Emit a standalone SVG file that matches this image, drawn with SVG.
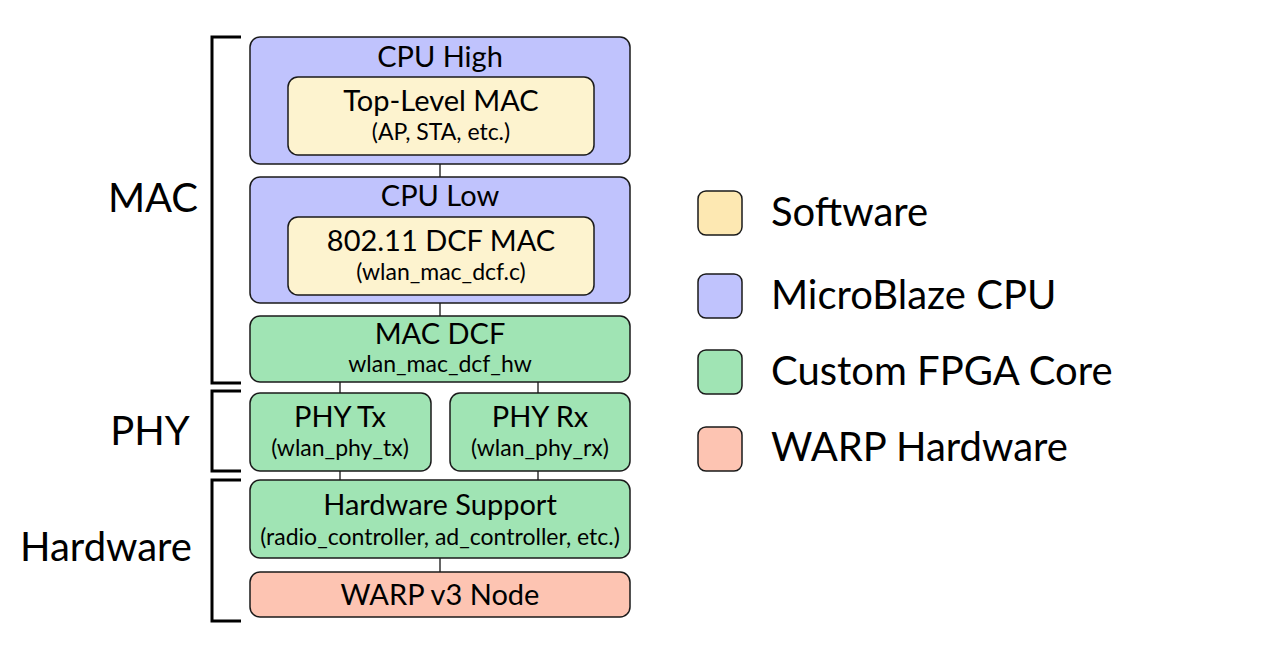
<svg xmlns="http://www.w3.org/2000/svg" width="1266" height="655" viewBox="0 0 1266 655">
<style>
text{font-family:Lato,"Open Sans","Liberation Sans",sans-serif;fill:#000;text-anchor:middle}
.box{stroke:#1a1a1a;stroke-width:1.5}
.cpu{fill:#c0c3fd}
.sw{fill:#fdf3cf}
.hw{fill:#a0e4b4}
.warp{fill:#fdc4b2}
.lsw{fill:#fde8b2}
.t1{font-size:29px}
.t2{font-size:23px}
.big{font-size:40px}
.leg{font-size:40px;text-anchor:start}
.br{fill:none;stroke:#000;stroke-width:3}
.con{stroke:#333;stroke-width:1.5}
</style>
<rect width="1266" height="655" fill="#fff"/>
<g id="connectors">
<line class="con" x1="440" y1="164" x2="440" y2="177"/>
<line class="con" x1="440" y1="303" x2="440" y2="316"/>
<line class="con" x1="340" y1="382" x2="340" y2="393"/>
<line class="con" x1="538" y1="382" x2="538" y2="393"/>
<line class="con" x1="340" y1="471" x2="340" y2="480"/>
<line class="con" x1="538" y1="471" x2="538" y2="480"/>
<line class="con" x1="440" y1="558" x2="440" y2="572"/>
</g>
<g id="brackets">
<path class="br" d="M241,37 H212 V383 H241"/>
<path class="br" d="M241,391 H212 V471 H241"/>
<path class="br" d="M241,480 H212 V621 H241"/>
<text class="big" x="153" y="212">MAC</text>
<text class="big" x="150" y="445">PHY</text>
<text class="big" x="106" y="561">Hardware</text>
</g>
<g id="cpu-high">
<rect class="box cpu" x="250" y="37" width="380" height="127" rx="10"/>
<text class="t1" x="440" y="67">CPU High</text>
</g>
<g id="top-level-mac">
<rect class="box sw" x="288" y="77" width="306" height="78" rx="10"/>
<text class="t1" x="441" y="111">Top-Level MAC</text>
<text class="t2" x="441" y="140">(AP, STA, etc.)</text>
</g>
<g id="cpu-low">
<rect class="box cpu" x="250" y="177" width="380" height="126" rx="10"/>
<text class="t1" x="440" y="206">CPU Low</text>
</g>
<g id="dcf-mac">
<rect class="box sw" x="288" y="217" width="306" height="78" rx="10"/>
<text class="t1" x="441" y="251">802.11 DCF MAC</text>
<text class="t2" x="441" y="280">(wlan_mac_dcf.c)</text>
</g>
<g id="mac-dcf">
<rect class="box hw" x="250" y="316" width="380" height="66" rx="10"/>
<text class="t1" x="440" y="344">MAC DCF</text>
<text class="t2" x="440" y="372">wlan_mac_dcf_hw</text>
</g>
<g id="phy-tx">
<rect class="box hw" x="250" y="393" width="181" height="78" rx="10"/>
<text class="t1" x="340" y="427">PHY Tx</text>
<text class="t2" x="340" y="456">(wlan_phy_tx)</text>
</g>
<g id="phy-rx">
<rect class="box hw" x="450" y="393" width="180" height="78" rx="10"/>
<text class="t1" x="540" y="427">PHY Rx</text>
<text class="t2" x="540" y="456">(wlan_phy_rx)</text>
</g>
<g id="hw-support">
<rect class="box hw" x="250" y="480" width="380" height="78" rx="10"/>
<text class="t1" x="440" y="515">Hardware Support</text>
<text class="t2" x="440" y="545">(radio_controller, ad_controller, etc.)</text>
</g>
<g id="warp-node">
<rect class="box warp" x="250" y="572" width="380" height="45" rx="10"/>
<text class="t1" x="440" y="605">WARP v3 Node</text>
</g>
<g id="legend">
<rect class="box lsw" x="698" y="191" width="44" height="44" rx="8"/>
<text class="leg" x="771" y="226">Software</text>
<rect class="box cpu" x="698" y="274" width="44" height="44" rx="8"/>
<text class="leg" x="771" y="309">MicroBlaze CPU</text>
<rect class="box hw" x="698" y="350" width="44" height="44" rx="8"/>
<text class="leg" x="771" y="385">Custom FPGA Core</text>
<rect class="box warp" x="698" y="427" width="44" height="44" rx="8"/>
<text class="leg" x="771" y="461">WARP Hardware</text>
</g>
</svg>
